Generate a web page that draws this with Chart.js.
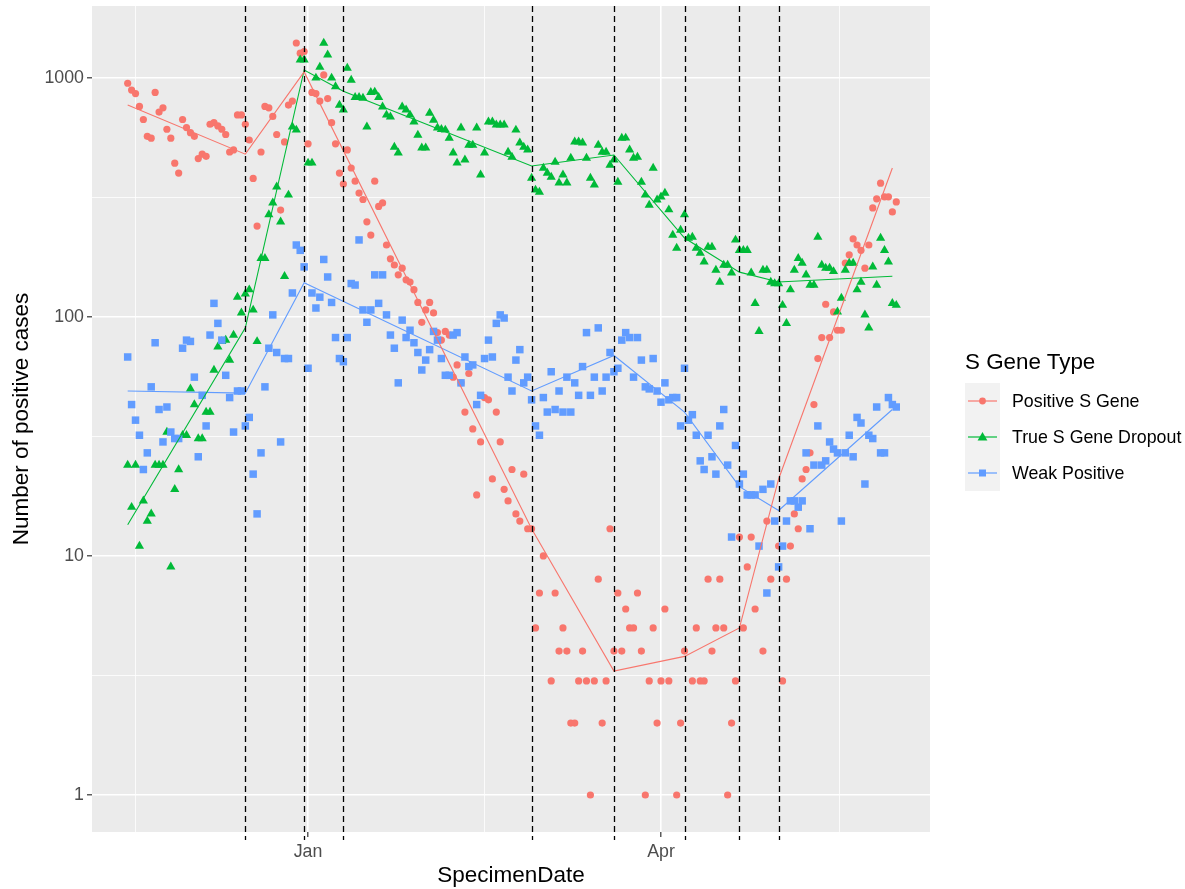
<!DOCTYPE html>
<html>
<head>
<meta charset="utf-8">
<title>S Gene Type</title>
<script src="https://cdn.jsdelivr.net/npm/chart.js@4.4.1/dist/chart.umd.min.js"></script>
<style>
  body { margin: 0; background: #fff; font-family: "Liberation Sans", Arial, sans-serif; }
  #wrap { position: relative; width: 1185px; height: 889px; }
  #legend { position: absolute; left: 965px; top: 348px; color: #000; }
  #legend .title { font-size: 22.4px; line-height: 28px; height: 28px; margin-bottom: 7px; }
  #legend .row { display: flex; align-items: center; height: 36px; }
  #legend .row svg { display: block; margin-right: 12px; }
  #legend .row span { font-size: 17.8px; }
</style>
</head>
<body>
<div id="wrap">
  <canvas id="chart" width="1185" height="889"></canvas>
  <div id="legend"></div>
</div>
<script>
/* Data: one value per day, starting 16 Nov (day -46 counted from 1 Jan) */
const startDay = -46;

const positiveS = [
  950, 890, 860, 760, 670, 570, 560, 870, 720, 750,
  610, 560, 440, 400, 670, 620, 590, 570, 460, 480,
  470, 640, 650, 630, 610, 580, 490, 500, 700, 700,
  640, 550, 380, 240, 490, 760, 750, 690, 580, 280,
  540, 770, 800, 1400, 1270, 1290, 530, 870, 860, 800,
  1030, 820, 650, 530, 400, 360, 500, 420, 370, 330,
  310, 250, 220, 370, 290, 300, 200, 175, 165, 150,
  160, 143, 140, 130, 115, 95, 107, 115, 104, 86,
  80, 87, 84, 56, 63, 53, 40, 58, 34, 18,
  30, 46, 45, 21, 40, 30, 19, 17, 23, 15,
  14, 22, 13, 13, 5, 7, 10, null, 3, 7,
  4, 5, 4, 2, 2, 3, 4, 3, 1, 3,
  8, 2, 3, 13, 4, 7, 4, 6, 5, 5,
  7, 4, 1, 3, 5, 2, 3, 6, 3, null,
  1, 2, 4, null, 3, 5, 3, 3, 8, 4,
  5, 8, 5, 1, 2, 3, 12, 5, 9, 12,
  6, null, 4, 14, 8, null, 11, 3, 8, 11,
  15, 13, 21, 23, 27, 43, 67, 82, 113, 82,
  105, 88, 88, 168, 182, 212, 200, 190, 160, 200,
  286, 312, 363, 318, 318, 275, 303
];

const dropout = [
  24, 16, 24, 11, 17, 14, 15, 24, 24, 24,
  33, 9, 19, 23, 32, 32, 50, 43, 31, 31,
  40, 40, 60, 75, 79, 80, 66, 84, 121, 104,
  125, 130, 107, 79, 176, 176, 268, 300, 350, 250,
  148, 324, 624, 606, 1190, 1190, 441, 441, 1000, 1110,
  1400, 1250, 1000, 920, 770, 735, 1100, 980, 830, 830,
  824, 624, 870, 874, 830, 757, 700, 687, 514, 486,
  757, 735, 700, 655, 577, 510, 510, 713, 667, 618,
  610, 606, 560, 486, 441, 618, 454, 524, 524, 618,
  393, 486, 655, 655, 636, 636, 636, 490, 467, 606,
  535, 514, 500, 381, 340, 333, 420, 400, 385, 445,
  364, 393, 364, 462, 540, 540, 535, 462, 381, 357,
  524, 490, 490, 432, 454, 367, 560, 561, 500, 462,
  467, 367, 324, 294, 420, 309, 318, 330, 281, 220,
  194, 231, 268, 214, 216, 194, 185, 170, 196, 196,
  157, 140, 165, 165, 153, 210, 190, 190, 190, 153,
  114, 87, 157, 157, 140, 138, 138, 112, 94, 130,
  157, 176, 168, 150, 136, 136, 216, 165, 160, 160,
  155, 105, 120, 157, 168, 168, 130, 140, 102, 90,
  162, 136, 214, 190, 170, 114, 112
];

const weakPositive = [
  68, 43, 37, 32, 23, 27, 51, 78, 41, 30,
  42, 33, 31, 31, 74, 80, 79, 56, 26, 47,
  35, 84, 114, 94, 80, 57, 46, 33, 49, 49,
  35, 38, 22, 15, 27, 51, 74, 102, 71, 30,
  67, 67, 126, 200, 190, 162, 61, 126, 109, 121,
  174, 147, 115, 82, 67, 65, 82, 138, 136, 210,
  107, 95, 107, 150, 114, 150, 102, 84, 74, 53,
  97, 82, 88, 78, 71, 60, 66, 73, 87, 80,
  67, 57, 57, 84, 86, 53, 68, 62, 63, 43,
  47, 67, 80, 68, 94, 102, 99, 56, 49, 66,
  73, 53, 56, 45, 35, 32, 46, 40, 59, 41,
  49, 40, 56, 40, 53, 47, 62, 86, 47, 56,
  90, 49, 56, 71, 59, 61, 80, 86, 82, 56,
  82, 66, 51, 50, 67, 49, 44, 53, 45, 46,
  46, 35, 61, 37, 39, 32, 25, 23, 32, 26,
  22, 35, 41, 24, 12, 29, 20, 22, 18, 18,
  18, 11, 19, 7, 20, 14, 9, 11, 14, 17,
  17, 16, 17, 27, 13, 24, 35, 24, 25, 30,
  28, 27, 14, 27, 32, 26, 38, 36, 20, 32,
  31, 42, 27, 27, 46, 43, 42
];

/* segmented fits (days from 1 Jan) */
const positiveFitDays = [-46, -16, -1, 57, 78, 96, 110, 120, 149];
const positiveFitValues = [770, 480, 1060, 13, 3.3, 3.8, 5.0, 21, 420];
const dropoutFitDays = [-46, -16, -1, 9, 57, 78, 96, 110, 120, 149];
const dropoutFitValues = [13.5, 90, 1080, 880, 428, 476, 214, 154, 140, 148];
const weakFitDays = [-46, -16, -1, 57, 78, 96, 110, 120, 149];
const weakFitValues = [49, 48, 139, 49, 69, 40, 19.5, 15.5, 41];

/* breakpoints (dashed lines) */
const breakDays = [-16, -1, 9, 57, 78, 96, 110, 120];

/* axes */
const xTickDays = [0, 90];
const xTickLabels = ["Jan", "Apr"];
const xMinorDays = [-44, 45, 135.5];
const yTickValues = [1, 10, 100, 1000];
const yTickLabels = ["1", "10", "100", "1000"];
const yMinorValues = [3.162, 31.62, 316.2];

const seriesNames = ["Positive S Gene", "True S Gene Dropout", "Weak Positive"];
const colors = ["#F8766D", "#00BA38", "#619CFF"];

const toPoints = arr => arr
  .map((v, i) => v == null ? null : { x: startDay + i, y: v })
  .filter(p => p);
const toLine = (days, vals) => days.map((d, i) => ({ x: d, y: vals[i] }));

Chart.defaults.font.family = '"Liberation Sans", Arial, sans-serif';

const panelBg = {
  id: "panelBg",
  beforeDraw(chart) {
    const { ctx, chartArea: a } = chart;
    ctx.save();
    ctx.fillStyle = "#EBEBEB";
    ctx.fillRect(a.left, a.top, a.right - a.left, a.bottom - a.top);
    ctx.restore();
  }
};

const breakLines = {
  id: "breakLines",
  afterDatasetsDraw(chart) {
    const { ctx, chartArea: a, scales: { x } } = chart;
    ctx.save();
    ctx.strokeStyle = "#000";
    ctx.lineWidth = 1.3;
    ctx.setLineDash([6, 4]);
    breakDays.forEach(d => {
      const px = Math.round(x.getPixelForValue(d)) + 0.5;
      ctx.beginPath();
      ctx.moveTo(px, a.top);
      ctx.lineTo(px, a.bottom + 8);
      ctx.stroke();
    });
    ctx.restore();
  }
};

const pointSet = (i, data, style, radius) => ({
  label: seriesNames[i],
  data,
  pointStyle: style,
  pointRadius: radius,
  backgroundColor: colors[i],
  borderWidth: 0,
  order: 3 - i + 1
});
const fitSet = (i, data) => ({
  type: "line",
  label: seriesNames[i] + " fit",
  data,
  borderColor: colors[i],
  borderWidth: 1.1,
  pointRadius: 0,
  fill: false,
  tension: 0,
  order: 0
});

const allX = [...xMinorDays, ...xTickDays].sort((a, b) => a - b);
const allY = [...yMinorValues, ...yTickValues].sort((a, b) => a - b);
const isMajorX = v => xTickDays.includes(v);
const isMajorY = v => yTickValues.includes(v);

new Chart(document.getElementById("chart"), {
  type: "scatter",
  data: {
    datasets: [
      fitSet(0, toLine(positiveFitDays, positiveFitValues)),
      fitSet(1, toLine(dropoutFitDays, dropoutFitValues)),
      fitSet(2, toLine(weakFitDays, weakFitValues)),
      pointSet(0, toPoints(positiveS), "circle", 3.6),
      pointSet(1, toPoints(dropout), "triangle", 5.3),
      pointSet(2, toPoints(weakPositive), "rect", 5.3)
    ]
  },
  options: {
    responsive: false,
    devicePixelRatio: 1,
    animation: false,
    events: [],
    layout: { padding: { left: 0, right: 255, top: 6, bottom: 0 } },
    plugins: { legend: { display: false }, tooltip: { enabled: false } },
    scales: {
      x: {
        type: "linear",
        min: -55.1,
        max: 158.6,
        afterBuildTicks: s => { s.ticks = allX.map(v => ({ value: v })); },
        afterFit: s => { s.height = 57; s.paddingLeft = 0; s.paddingRight = 0; },
        border: { display: false },
        grid: {
          color: "#FFFFFF",
          lineWidth: c => (c.tick && isMajorX(c.tick.value)) ? 1.6 : 0.8,
          tickColor: c => (c.tick && isMajorX(c.tick.value)) ? "#333333" : "rgba(0,0,0,0)",
          tickWidth: 1.2,
          tickLength: 5
        },
        ticks: {
          autoSkip: false,
          maxRotation: 0,
          padding: 4,
          color: "#4D4D4D",
          font: { size: 17.8 },
          callback: v => { const k = xTickDays.indexOf(v); return k >= 0 ? xTickLabels[k] : ""; }
        },
        title: { display: true, text: "SpecimenDate", color: "#000", font: { size: 22.5 }, padding: { top: 0, bottom: 0 } }
      },
      y: {
        type: "logarithmic",
        min: 0.7,
        max: 2000,
        afterBuildTicks: s => { s.ticks = allY.map(v => ({ value: v })); },
        afterFit: s => { s.width = 92; s.paddingTop = 0; s.paddingBottom = 0; },
        border: { display: false },
        grid: {
          color: "#FFFFFF",
          lineWidth: c => (c.tick && isMajorY(c.tick.value)) ? 1.6 : 0.8,
          tickColor: c => (c.tick && isMajorY(c.tick.value)) ? "#333333" : "rgba(0,0,0,0)",
          tickWidth: 1.2,
          tickLength: 5
        },
        ticks: {
          autoSkip: false,
          padding: 3,
          color: "#4D4D4D",
          font: { size: 17.8 },
          callback: v => { const k = yTickValues.indexOf(v); return k >= 0 ? yTickLabels[k] : ""; }
        },
        title: { display: true, text: "Number of positive cases", color: "#000", font: { size: 22.5 }, padding: { top: 8, bottom: 0 } }
      }
    }
  },
  plugins: [panelBg, breakLines]
});

/* Legend */
function keySvg(i) {
  const c = colors[i];
  let mark;
  if (i === 0) mark = `<circle cx="17.5" cy="18" r="3.4" fill="${c}"/>`;
  else if (i === 1) mark = `<polygon points="17.5,13 12.6,21.5 22.4,21.5" fill="${c}"/>`;
  else mark = `<rect x="14" y="14.5" width="7" height="7" fill="${c}"/>`;
  return `<svg width="35" height="36"><rect width="35" height="36" fill="#F2F2F2"/>` +
    `<line x1="3" y1="18" x2="32" y2="18" stroke="${c}" stroke-width="1.2"/>${mark}</svg>`;
}
const legend = document.getElementById("legend");
legend.innerHTML = `<div class="title">S Gene Type</div>` +
  seriesNames.map((n, i) => `<div class="row">${keySvg(i)}<span>${n}</span></div>`).join("");
</script>
</body>
</html>
